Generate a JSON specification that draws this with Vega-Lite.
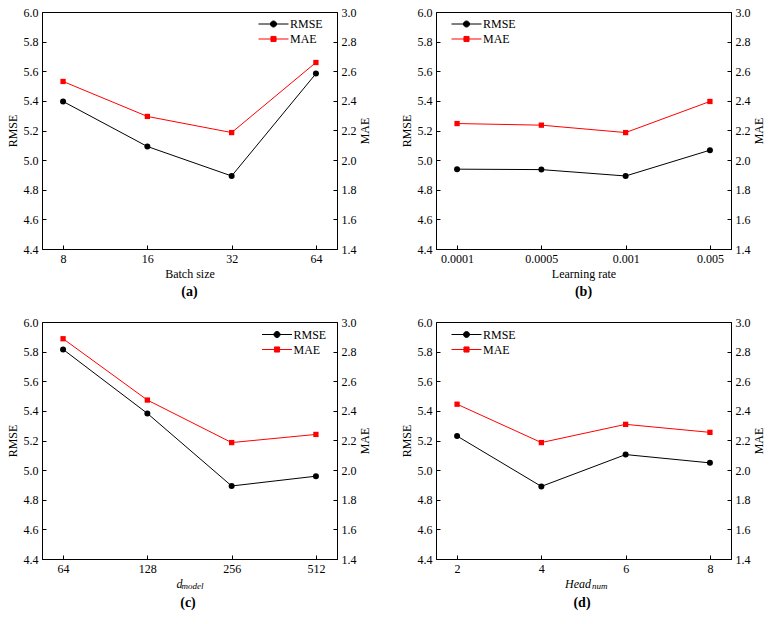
{
  "$schema": "https://vega.github.io/schema/vega-lite/v6.json",
  "background": "white",
  "padding": {"left": 5, "top": 5, "right": 5, "bottom": 5},
  "config": {
    "font": "Liberation Serif",
    "view": {"stroke": "black", "strokeWidth": 1},
    "axis": {
      "labelFont": "Liberation Serif", "labelFontSize": 12, "labelColor": "black",
      "titleFont": "Liberation Serif", "titleFontSize": 12, "titleFontWeight": "normal", "titleColor": "black",
      "domainColor": "black", "domainWidth": 1, "tickColor": "black", "tickWidth": 1, "tickSize": -4,
      "grid": false, "labelPadding": 8
    },
    "axisX": {"titlePadding": 4},
    "axisLeft": {"titlePadding": 4},
    "axisRight": {"titlePadding": 3, "titleAngle": 270, "titleBaseline": "top"},
    "title": {"font": "Liberation Serif", "color": "black"},
    "legend": {"labelFont": "Liberation Serif", "labelFontSize": 12, "labelColor": "black"}
  },
  "datasets": {
    "d": [
      {"p": "a", "x": "8", "m": "RMSE", "v": 5.396},
      {"p": "a", "x": "16", "m": "RMSE", "v": 5.092},
      {"p": "a", "x": "32", "m": "RMSE", "v": 4.893},
      {"p": "a", "x": "64", "m": "RMSE", "v": 5.584},
      {"p": "a", "x": "8", "m": "MAE", "v": 2.531},
      {"p": "a", "x": "16", "m": "MAE", "v": 2.295},
      {"p": "a", "x": "32", "m": "MAE", "v": 2.186},
      {"p": "a", "x": "64", "m": "MAE", "v": 2.659},
      {"p": "b", "x": "0.0001", "m": "RMSE", "v": 4.939},
      {"p": "b", "x": "0.0005", "m": "RMSE", "v": 4.936},
      {"p": "b", "x": "0.001", "m": "RMSE", "v": 4.893},
      {"p": "b", "x": "0.005", "m": "RMSE", "v": 5.067},
      {"p": "b", "x": "0.0001", "m": "MAE", "v": 2.247},
      {"p": "b", "x": "0.0005", "m": "MAE", "v": 2.236},
      {"p": "b", "x": "0.001", "m": "MAE", "v": 2.186},
      {"p": "b", "x": "0.005", "m": "MAE", "v": 2.396},
      {"p": "c", "x": "64", "m": "RMSE", "v": 5.815},
      {"p": "c", "x": "128", "m": "RMSE", "v": 5.383},
      {"p": "c", "x": "256", "m": "RMSE", "v": 4.893},
      {"p": "c", "x": "512", "m": "RMSE", "v": 4.959},
      {"p": "c", "x": "64", "m": "MAE", "v": 2.887},
      {"p": "c", "x": "128", "m": "MAE", "v": 2.473},
      {"p": "c", "x": "256", "m": "MAE", "v": 2.186},
      {"p": "c", "x": "512", "m": "MAE", "v": 2.241},
      {"p": "d", "x": "2", "m": "RMSE", "v": 5.23},
      {"p": "d", "x": "4", "m": "RMSE", "v": 4.89},
      {"p": "d", "x": "6", "m": "RMSE", "v": 5.105},
      {"p": "d", "x": "8", "m": "RMSE", "v": 5.049},
      {"p": "d", "x": "2", "m": "MAE", "v": 2.445},
      {"p": "d", "x": "4", "m": "MAE", "v": 2.186},
      {"p": "d", "x": "6", "m": "MAE", "v": 2.309},
      {"p": "d", "x": "8", "m": "MAE", "v": 2.255}
    ]
  },
  "resolve": {"scale": {"color": "independent"}, "legend": {"color": "independent"}},
  "spacing": 15,
  "vconcat": [
    {
      "spacing": 28,
      "resolve": {"scale": {"color": "independent"}, "legend": {"color": "independent"}},
      "hconcat": [
        {
          "title": {"text": "(a)", "orient": "bottom", "anchor": "middle", "frame": "group", "fontSize": 14, "fontWeight": "bold", "offset": 6},
          "width": 295, "height": 237,
          "data": {"name": "d"},
          "transform": [{"filter": "datum.p == 'a'"}],
          "encoding": {"x": {"field": "x", "type": "ordinal", "sort": null, "scale": {"type": "point", "padding": 0.25}, "axis": {"title": "Batch size", "labelAngle": 0}}},
          "layer": [
            {
              "transform": [{"filter": "datum.m == 'RMSE'"}],
              "encoding": {
                "y": {"field": "v", "type": "quantitative", "scale": {"domain": [4.4, 6.0], "nice": false, "zero": false}, "axis": {"title": "RMSE", "orient": "left", "values": [4.4, 4.6, 4.8, 5.0, 5.2, 5.4, 5.6, 5.8, 6.0], "format": ".1f"}},
                "color": {"field": "m", "type": "nominal", "scale": {"domain": ["RMSE", "MAE"], "range": ["#000000", "#ff0000"]},
                  "legend": {"orient": "none", "legendX": 216, "legendY": 4.5, "title": null, "padding": 0, "symbolSize": 900, "clipHeight": 15, "labelOffset": 1, "rowPadding": 0,
                    "encode": {"symbols": {"update": {"shape": {"signal": "datum.value === 'RMSE' ? 'M-1,0L1,0M-0.2,0A0.2,0.2,0,1,0,0.2,0A0.2,0.2,0,1,0,-0.2,0Z' : 'M-1,0L1,0M-0.17,-0.17L0.17,-0.17L0.17,0.17L-0.17,0.17Z'"}, "fill": {"signal": "datum.value === 'RMSE' ? '#000000' : '#ff0000'"}, "stroke": {"signal": "datum.value === 'RMSE' ? '#000000' : '#ff0000'"}, "strokeWidth": {"value": 1}, "opacity": {"value": 1}}}}}}
              },
              "layer": [
                {"mark": {"type": "line", "strokeWidth": 1}},
                {"mark": {"type": "point", "shape": "circle", "filled": true, "size": 36, "opacity": 1}}
              ]
            },
            {
              "transform": [{"filter": "datum.m == 'MAE'"}],
              "encoding": {
                "y": {"field": "v", "type": "quantitative", "scale": {"domain": [1.4, 3.0], "nice": false, "zero": false}, "axis": {"title": "MAE", "orient": "right", "values": [1.4, 1.6, 1.8, 2.0, 2.2, 2.4, 2.6, 2.8, 3.0], "format": ".1f"}},
                "color": {"field": "m", "type": "nominal", "scale": {"domain": ["RMSE", "MAE"], "range": ["#000000", "#ff0000"]}}
              },
              "layer": [
                {"mark": {"type": "line", "strokeWidth": 1}},
                {"mark": {"type": "point", "shape": "square", "filled": true, "size": 28, "opacity": 1}}
              ]
            }
          ],
          "resolve": {"scale": {"y": "independent"}}
        },
        {
          "title": {"text": "(b)", "orient": "bottom", "anchor": "middle", "frame": "group", "fontSize": 14, "fontWeight": "bold", "offset": 6},
          "width": 295, "height": 237,
          "data": {"name": "d"},
          "transform": [{"filter": "datum.p == 'b'"}],
          "encoding": {"x": {"field": "x", "type": "ordinal", "sort": null, "scale": {"type": "point", "padding": 0.25}, "axis": {"title": "Learning rate", "labelAngle": 0}}},
          "layer": [
            {
              "transform": [{"filter": "datum.m == 'RMSE'"}],
              "encoding": {
                "y": {"field": "v", "type": "quantitative", "scale": {"domain": [4.4, 6.0], "nice": false, "zero": false}, "axis": {"title": "RMSE", "orient": "left", "values": [4.4, 4.6, 4.8, 5.0, 5.2, 5.4, 5.6, 5.8, 6.0], "format": ".1f"}},
                "color": {"field": "m", "type": "nominal", "scale": {"domain": ["RMSE", "MAE"], "range": ["#000000", "#ff0000"]},
                  "legend": {"orient": "none", "legendX": 15, "legendY": 4.5, "title": null, "padding": 0, "symbolSize": 900, "clipHeight": 15, "labelOffset": 1, "rowPadding": 0,
                    "encode": {"symbols": {"update": {"shape": {"signal": "datum.value === 'RMSE' ? 'M-1,0L1,0M-0.2,0A0.2,0.2,0,1,0,0.2,0A0.2,0.2,0,1,0,-0.2,0Z' : 'M-1,0L1,0M-0.17,-0.17L0.17,-0.17L0.17,0.17L-0.17,0.17Z'"}, "fill": {"signal": "datum.value === 'RMSE' ? '#000000' : '#ff0000'"}, "stroke": {"signal": "datum.value === 'RMSE' ? '#000000' : '#ff0000'"}, "strokeWidth": {"value": 1}, "opacity": {"value": 1}}}}}}
              },
              "layer": [
                {"mark": {"type": "line", "strokeWidth": 1}},
                {"mark": {"type": "point", "shape": "circle", "filled": true, "size": 36, "opacity": 1}}
              ]
            },
            {
              "transform": [{"filter": "datum.m == 'MAE'"}],
              "encoding": {
                "y": {"field": "v", "type": "quantitative", "scale": {"domain": [1.4, 3.0], "nice": false, "zero": false}, "axis": {"title": "MAE", "orient": "right", "values": [1.4, 1.6, 1.8, 2.0, 2.2, 2.4, 2.6, 2.8, 3.0], "format": ".1f"}},
                "color": {"field": "m", "type": "nominal", "scale": {"domain": ["RMSE", "MAE"], "range": ["#000000", "#ff0000"]}}
              },
              "layer": [
                {"mark": {"type": "line", "strokeWidth": 1}},
                {"mark": {"type": "point", "shape": "square", "filled": true, "size": 28, "opacity": 1}}
              ]
            }
          ],
          "resolve": {"scale": {"y": "independent"}}
        }
      ]
    },
    {
      "spacing": 28,
      "resolve": {"scale": {"color": "independent"}, "legend": {"color": "independent"}},
      "hconcat": [
        {
          "title": {"text": "(c)", "orient": "bottom", "anchor": "middle", "frame": "bounds", "fontSize": 14, "fontWeight": "bold", "offset": 4},
          "resolve": {"scale": {"color": "independent"}, "legend": {"color": "independent"}},
          "vconcat": [
            {
              "title": {"text": "model", "orient": "bottom", "anchor": "start", "frame": "group", "dx": 139.5, "offset": -7, "fontSize": 9, "fontStyle": "italic", "fontWeight": "normal"},
              "width": 295, "height": 237,
              "data": {"name": "d"},
              "transform": [{"filter": "datum.p == 'c'"}],
              "encoding": {"x": {"field": "x", "type": "ordinal", "sort": null, "scale": {"type": "point", "padding": 0.25}, "axis": {"title": "d", "titleFontStyle": "italic", "titleX": 137, "labelAngle": 0}}},
              "layer": [
                {
                  "transform": [{"filter": "datum.m == 'RMSE'"}],
                  "encoding": {
                    "y": {"field": "v", "type": "quantitative", "scale": {"domain": [4.4, 6.0], "nice": false, "zero": false}, "axis": {"title": "RMSE", "orient": "left", "values": [4.4, 4.6, 4.8, 5.0, 5.2, 5.4, 5.6, 5.8, 6.0], "format": ".1f"}},
                    "color": {"field": "m", "type": "nominal", "scale": {"domain": ["RMSE", "MAE"], "range": ["#000000", "#ff0000"]},
                      "legend": {"orient": "none", "legendX": 219.5, "legendY": 5, "title": null, "padding": 0, "symbolSize": 900, "clipHeight": 15, "labelOffset": 1, "rowPadding": 0,
                        "encode": {"symbols": {"update": {"shape": {"signal": "datum.value === 'RMSE' ? 'M-1,0L1,0M-0.2,0A0.2,0.2,0,1,0,0.2,0A0.2,0.2,0,1,0,-0.2,0Z' : 'M-1,0L1,0M-0.17,-0.17L0.17,-0.17L0.17,0.17L-0.17,0.17Z'"}, "fill": {"signal": "datum.value === 'RMSE' ? '#000000' : '#ff0000'"}, "stroke": {"signal": "datum.value === 'RMSE' ? '#000000' : '#ff0000'"}, "strokeWidth": {"value": 1}, "opacity": {"value": 1}}}}}}
                  },
                  "layer": [
                    {"mark": {"type": "line", "strokeWidth": 1}},
                    {"mark": {"type": "point", "shape": "circle", "filled": true, "size": 36, "opacity": 1}}
                  ]
                },
                {
                  "transform": [{"filter": "datum.m == 'MAE'"}],
                  "encoding": {
                    "y": {"field": "v", "type": "quantitative", "scale": {"domain": [1.4, 3.0], "nice": false, "zero": false}, "axis": {"title": "MAE", "orient": "right", "values": [1.4, 1.6, 1.8, 2.0, 2.2, 2.4, 2.6, 2.8, 3.0], "format": ".1f"}},
                    "color": {"field": "m", "type": "nominal", "scale": {"domain": ["RMSE", "MAE"], "range": ["#000000", "#ff0000"]}}
                  },
                  "layer": [
                    {"mark": {"type": "line", "strokeWidth": 1}},
                    {"mark": {"type": "point", "shape": "square", "filled": true, "size": 28, "opacity": 1}}
                  ]
                }
              ],
              "resolve": {"scale": {"y": "independent"}}
            }
          ]
        },
        {
          "title": {"text": "(d)", "orient": "bottom", "anchor": "middle", "frame": "bounds", "fontSize": 14, "fontWeight": "bold", "offset": 4},
          "resolve": {"scale": {"color": "independent"}, "legend": {"color": "independent"}},
          "vconcat": [
            {
              "title": {"text": "num", "orient": "bottom", "anchor": "start", "frame": "group", "dx": 156, "offset": -7, "fontSize": 9, "fontStyle": "italic", "fontWeight": "normal"},
              "width": 295, "height": 237,
              "data": {"name": "d"},
              "transform": [{"filter": "datum.p == 'd'"}],
              "encoding": {"x": {"field": "x", "type": "ordinal", "sort": null, "scale": {"type": "point", "padding": 0.25}, "axis": {"title": "Head", "titleFontStyle": "italic", "titleX": 141.5, "labelAngle": 0}}},
              "layer": [
                {
                  "transform": [{"filter": "datum.m == 'RMSE'"}],
                  "encoding": {
                    "y": {"field": "v", "type": "quantitative", "scale": {"domain": [4.4, 6.0], "nice": false, "zero": false}, "axis": {"title": "RMSE", "orient": "left", "values": [4.4, 4.6, 4.8, 5.0, 5.2, 5.4, 5.6, 5.8, 6.0], "format": ".1f"}},
                    "color": {"field": "m", "type": "nominal", "scale": {"domain": ["RMSE", "MAE"], "range": ["#000000", "#ff0000"]},
                      "legend": {"orient": "none", "legendX": 15, "legendY": 5, "title": null, "padding": 0, "symbolSize": 900, "clipHeight": 15, "labelOffset": 1, "rowPadding": 0,
                        "encode": {"symbols": {"update": {"shape": {"signal": "datum.value === 'RMSE' ? 'M-1,0L1,0M-0.2,0A0.2,0.2,0,1,0,0.2,0A0.2,0.2,0,1,0,-0.2,0Z' : 'M-1,0L1,0M-0.17,-0.17L0.17,-0.17L0.17,0.17L-0.17,0.17Z'"}, "fill": {"signal": "datum.value === 'RMSE' ? '#000000' : '#ff0000'"}, "stroke": {"signal": "datum.value === 'RMSE' ? '#000000' : '#ff0000'"}, "strokeWidth": {"value": 1}, "opacity": {"value": 1}}}}}}
                  },
                  "layer": [
                    {"mark": {"type": "line", "strokeWidth": 1}},
                    {"mark": {"type": "point", "shape": "circle", "filled": true, "size": 36, "opacity": 1}}
                  ]
                },
                {
                  "transform": [{"filter": "datum.m == 'MAE'"}],
                  "encoding": {
                    "y": {"field": "v", "type": "quantitative", "scale": {"domain": [1.4, 3.0], "nice": false, "zero": false}, "axis": {"title": "MAE", "orient": "right", "values": [1.4, 1.6, 1.8, 2.0, 2.2, 2.4, 2.6, 2.8, 3.0], "format": ".1f"}},
                    "color": {"field": "m", "type": "nominal", "scale": {"domain": ["RMSE", "MAE"], "range": ["#000000", "#ff0000"]}}
                  },
                  "layer": [
                    {"mark": {"type": "line", "strokeWidth": 1}},
                    {"mark": {"type": "point", "shape": "square", "filled": true, "size": 28, "opacity": 1}}
                  ]
                }
              ],
              "resolve": {"scale": {"y": "independent"}}
            }
          ]
        }
      ]
    }
  ]
}
